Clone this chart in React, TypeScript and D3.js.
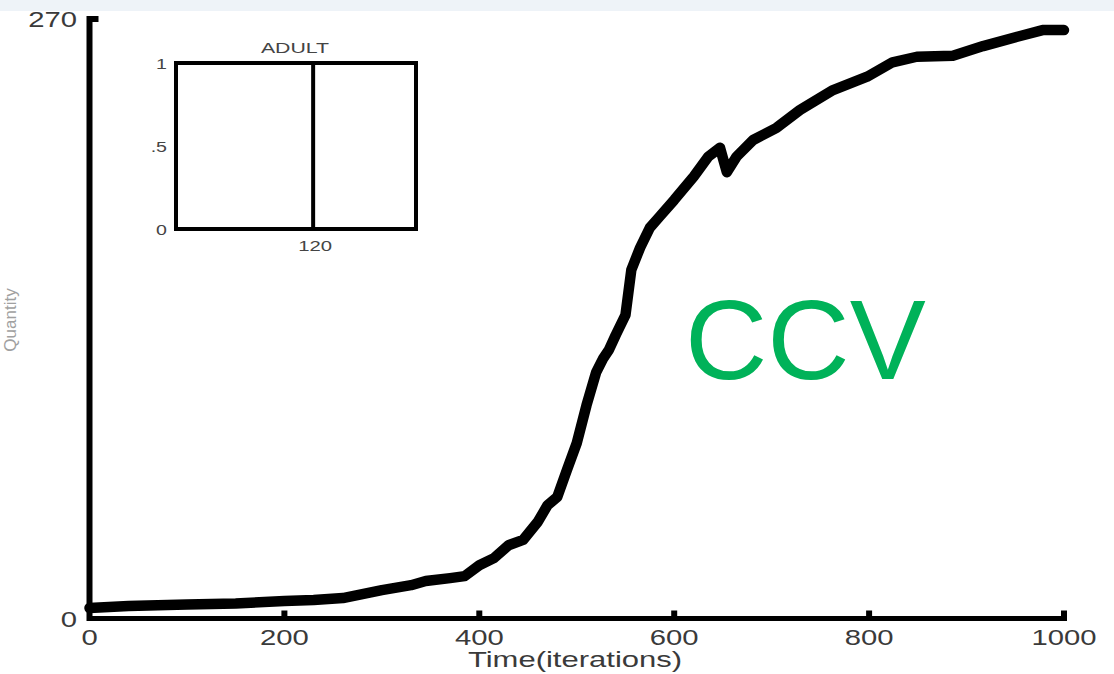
import React from "react";
import * as d3 from "d3";

const timeSteps = [0, 20, 40, 80, 100, 150, 200, 230, 260, 280, 300, 330, 345, 370, 385, 400, 415, 430, 445, 460, 470, 480, 490, 500, 510, 520, 527, 533, 540, 550, 556, 565, 575, 585, 600, 620, 635, 647, 654, 664, 681, 705, 729, 763, 798, 824, 849, 886, 917, 952, 978, 1000];
const quantity = [4.7, 5.2, 5.6, 6.1, 6.3, 6.8, 7.9, 8.3, 9.2, 11, 12.8, 15, 16.9, 18.2, 19.1, 24, 27.2, 33, 35.4, 43.5, 51, 54.7, 67, 79, 96, 111, 117, 121, 127.7, 136.7, 157, 167, 176, 181, 188.5, 199, 208, 212, 201, 208, 215.5, 221, 229, 238, 244, 250.5, 253, 253.5, 257.8, 262, 265, 265];
const xTicks = [0, 200, 400, 600, 800, 1000];
const yTicks = [0, 270];
const insetYTicks = [0, 0.5, 1];
const insetYLabels = ["0", ".5", "1"];
const insetMarker = 120;
const insetTitle = "ADULT";
const xLabel = "Time(iterations)";
const yLabel = "Quantity";
const overlayText = "CCV";

const W = 1114;
const H = 674;
const FONT = "'Liberation Sans', Arial, Helvetica, sans-serif";
const SX = 1.33;

function SText({ x, y, children, anchor = "middle", size = 22, sx = SX, fill = "#3a3a3a" }: any) {
  return (
    <text
      transform={`translate(${x},${y}) scale(${sx},1)`}
      textAnchor={anchor}
      fontFamily={FONT}
      fontSize={size}
      fill={fill}
    >
      {children}
    </text>
  );
}

export default function App() {
  const x = d3.scaleLinear().domain([0, 1000]).range([89.5, 1064]);
  const y = d3.scaleLinear().domain([0, 270]).range([618.5, 19]);
  const ix = d3.scaleLinear().domain([0, 210]).range([176, 416]);
  const iy = d3.scaleLinear().domain([0, 1]).range([229, 63]);

  const pts = timeSteps.map((t, i) => [t, quantity[i]] as [number, number]);
  const line = d3
    .line<[number, number]>()
    .x((d) => x(d[0]))
    .y((d) => y(d[1]))
    .curve(d3.curveLinear);

  return (
    <svg
      width={W}
      height={H}
      style={{ position: "absolute", left: 0, top: 0, background: "#fff" }}
    >
      <rect x={0} y={0} width={W} height={H} fill="#fff" />
      <rect x={0} y={0} width={W} height={11} fill="#eef3f8" />

      {/* faint rotated y label */}
      <text
        transform={`translate(16,320) rotate(-90)`}
        textAnchor="middle"
        fontFamily={FONT}
        fontSize={17}
        fill="#a0a0a0"
      >
        {yLabel}
      </text>

      {/* main curve */}
      <path
        d={line(pts) || ""}
        fill="none"
        stroke="#000"
        strokeWidth={10.5}
        strokeLinejoin="round"
        strokeLinecap="round"
      />

      {/* axes */}
      <line x1={x(0)} x2={x(1000) + 3} y1={y(0)} y2={y(0)} stroke="#000" strokeWidth={5} />
      <line x1={x(0)} x2={x(0)} y1={y(270) - 3} y2={y(0) + 2.5} stroke="#000" strokeWidth={6} />
      {xTicks.filter((t) => t > 0).map((t) => (
        <line key={t} x1={x(t)} x2={x(t)} y1={y(0)} y2={y(0) - 8} stroke="#000" strokeWidth={6} />
      ))}
      {yTicks.filter((t) => t > 0).map((t) => (
        <line key={t} x1={x(0)} x2={x(0) + 9} y1={y(t)} y2={y(t)} stroke="#000" strokeWidth={6} />
      ))}

      {/* tick labels */}
      {xTicks.map((t) => (
        <SText key={t} x={x(t)} y={645}>
          {String(t)}
        </SText>
      ))}
      {yTicks.map((t) => (
        <SText key={t} x={77} y={y(t) + 8} anchor="end">
          {String(t)}
        </SText>
      ))}
      <SText x={575} y={667} sx={1.41}>
        {xLabel}
      </SText>

      {/* inset */}
      <rect
        x={ix(0)}
        y={iy(1)}
        width={ix(210) - ix(0)}
        height={iy(0) - iy(1)}
        fill="none"
        stroke="#000"
        strokeWidth={4}
      />
      <line x1={ix(insetMarker)} x2={ix(insetMarker)} y1={iy(1)} y2={iy(0)} stroke="#000" strokeWidth={4} />
      <SText x={295} y={53} size={15} sx={1.42} fill="#444">
        {insetTitle}
      </SText>
      {insetYTicks.map((t, i) => (
        <SText key={t} x={ix(0) - 9} y={iy(t) + 6} anchor="end" size={14} sx={1.4} fill="#444">
          {insetYLabels[i]}
        </SText>
      ))}
      <SText x={ix(insetMarker) + 2} y={251} size={14} sx={1.45} fill="#444">
        {String(insetMarker)}
      </SText>

      {/* overlay label */}
      <text x={685} y={379} fontFamily={FONT} fontSize={114} fill="#00b259">
        {overlayText}
      </text>
    </svg>
  );
}
